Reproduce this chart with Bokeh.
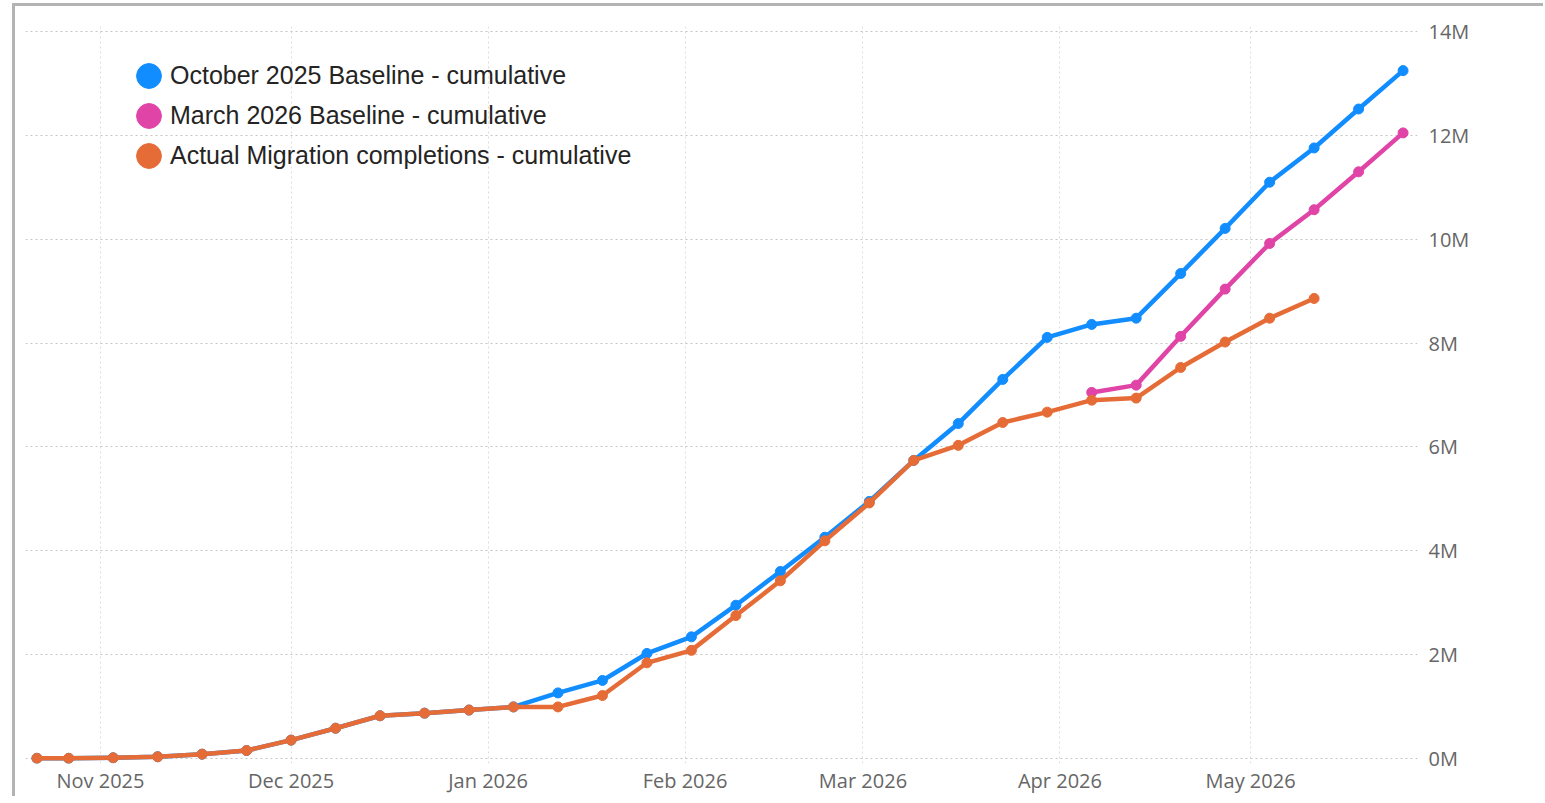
import numpy as np
import pandas as pd
from bokeh.plotting import figure
from bokeh.models import (Range1d, FixedTicker, MonthsTicker, DatetimeTickFormatter,
                          Legend, LegendItem)
from bokeh.core.properties import value
from bokeh.embed import file_html
from bokeh.resources import INLINE

# ---------------- data (values in millions) ----------------
dates = ["2025-10-22", "2025-10-27", "2025-11-03", "2025-11-10", "2025-11-17", "2025-11-24",
         "2025-12-01", "2025-12-08", "2025-12-15", "2025-12-22", "2025-12-29", "2026-01-05",
         "2026-01-12", "2026-01-19", "2026-01-26", "2026-02-02", "2026-02-09", "2026-02-16",
         "2026-02-23", "2026-03-02", "2026-03-09", "2026-03-16", "2026-03-23", "2026-03-30",
         "2026-04-06", "2026-04-13", "2026-04-20", "2026-04-27", "2026-05-04", "2026-05-11",
         "2026-05-18", "2026-05-25"]

october_baseline = [0.00, 0.00, 0.01, 0.03, 0.08, 0.15,
                    0.35, 0.58, 0.82, 0.87, 0.93, 0.99,
                    1.26, 1.50, 2.02, 2.34, 2.95, 3.60,
                    4.26, 4.95, 5.74, 6.45, 7.30, 8.11,
                    8.36, 8.48, 9.34, 10.21, 11.10, 11.76,
                    12.51, 13.25]

march_baseline = [None, None, None, None, None, None,
                  None, None, None, None, None, None,
                  None, None, None, None, None, None,
                  None, None, None, None, None, None,
                  7.05, 7.19, 8.13, 9.04, 9.92, 10.57,
                  11.30, 12.05]

actual_completions = [0.00, 0.00, 0.01, 0.03, 0.08, 0.15,
                      0.35, 0.58, 0.82, 0.87, 0.93, 0.99,
                      0.99, 1.21, 1.84, 2.08, 2.75, 3.42,
                      4.19, 4.92, 5.74, 6.03, 6.47, 6.67,
                      6.90, 6.94, 7.53, 8.02, 8.48, 8.86,
                      None, None]

series_names = ["October 2025 Baseline - cumulative",
                "March 2026 Baseline - cumulative",
                "Actual Migration completions - cumulative"]
series_colors = ["#118DFF", "#E044A7", "#E66C37"]

y_ticks = [0, 2, 4, 6, 8, 10, 12, 14]
y_tick_labels = ["0M", "2M", "4M", "6M", "8M", "10M", "12M", "14M"]


def series(vals):
    xs = [pd.Timestamp(d) for d, v in zip(dates, vals) if v is not None]
    ys = [v for v in vals if v is not None]
    return xs, ys


# ---------------- figure ----------------
p = figure(x_axis_type="datetime", frame_width=1392, frame_height=737,
           min_border_left=10, min_border_top=20, min_border_right=126, min_border_bottom=30,
           x_range=Range1d(pd.Timestamp("2025-10-20 04:48"), pd.Timestamp("2026-05-27 06:30")),
           y_range=Range1d(-0.1, 14.1), y_axis_location="right",
           output_backend="svg", toolbar_location=None)

p.styles = {"margin-top": "3px", "margin-left": "12px",
            "border-top": "3px solid #b3b3b3", "border-left": "3px solid #b3b3b3"}

p.outline_line_color = None
p.background_fill_color = "white"
p.border_fill_color = "white"

# axes
for ax in (p.xaxis[0], p.yaxis[0]):
    ax.axis_line_color = None
    ax.major_tick_line_color = None
    ax.minor_tick_line_color = None
    ax.major_tick_out = 0
    ax.major_tick_in = 0
    ax.major_label_text_font = "Open Sans"
    ax.major_label_text_font_size = "20px"
    ax.major_label_text_color = "#666666"

p.xaxis.ticker = MonthsTicker(months=list(range(12)))
p.xaxis.formatter = DatetimeTickFormatter(months="%b %Y", days="%b %Y", years="%b %Y")
p.xaxis.major_label_standoff = 3

p.yaxis.ticker = FixedTicker(ticks=y_ticks)
p.yaxis.major_label_overrides = {t: l for t, l in zip(y_ticks, y_tick_labels)}
p.yaxis.major_label_standoff = 11

# grids
p.ygrid.grid_line_color = "#c4c4c4"
p.ygrid.grid_line_dash = "2 3"
p.ygrid.grid_line_width = 1
p.xgrid.grid_line_color = "#dcdcdc"
p.xgrid.grid_line_dash = "2 3"
p.xgrid.grid_line_width = 1

# series
renderers = []
for vals, color in zip([october_baseline, march_baseline, actual_completions], series_colors):
    xs, ys = series(vals)
    p.line(xs, ys, line_color=color, line_width=4.5, line_join="round", line_cap="round")
    r = p.ellipse(xs, ys, width=10, height=10, width_units="screen", height_units="screen",
                  fill_color=color, line_color=color)
    renderers.append(r)

# legend
legend = Legend(items=[LegendItem(label=value(n), renderers=[r]) for n, r in zip(series_names, renderers)],
                location=(108, 592), glyph_width=31, glyph_height=31, spacing=9,
                label_standoff=6, padding=0, margin=0,
                border_line_alpha=0, background_fill_alpha=0,
                label_text_font="Liberation Sans", label_text_font_size="25px",
                label_text_color="#252423")
p.add_layout(legend)

open("out.html", "w").write(file_html(p, INLINE))
